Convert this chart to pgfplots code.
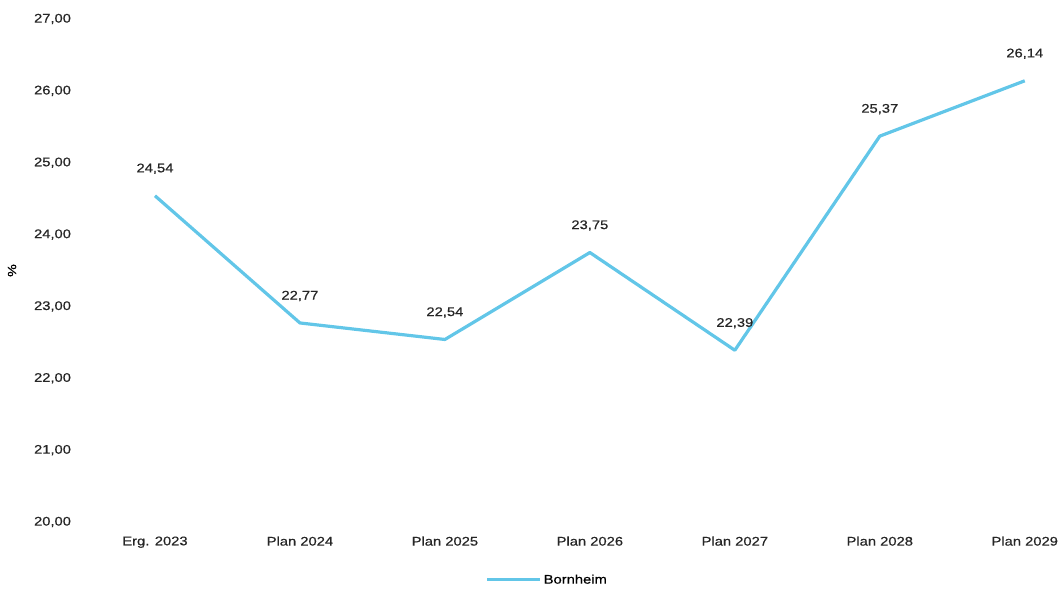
\documentclass[border=0pt]{standalone}
\usepackage{fontspec}
\setmainfont{Liberation Sans}[FakeStretch=1.18, FakeBold=0.6]
\usepackage{pgfplots}
\pgfplotsset{compat=1.18}
\usetikzlibrary{calc}
\definecolor{linecol}{RGB}{98,198,232}
\begin{document}
\begin{tikzpicture}
\begin{axis}[
  scale only axis,
  width=978.5pt, height=503pt,
  xmin=-0.5, xmax=6.25,
  ymin=20, ymax=27,
  axis line style={draw=none},
  tick style={draw=none},
  xtick={0,1,2,3,4,5,6},
  xticklabels={Erg. 2023,Plan 2024,Plan 2025,Plan 2026,Plan 2027,Plan 2028,Plan 2029},
  ytick={20,21,22,23,24,25,26,27},
  /pgf/number format/assume math mode=true,
  yticklabel={\pgfmathprintnumber[fixed,fixed zerofill,precision=2,use comma]{\tick}},
  ticklabel style={font=\fontsize{12.5}{14}\selectfont, text=black!85},
  xticklabel style={yshift=-11pt},
  yticklabel style={xshift=-8pt},
  ylabel={\%},
  ylabel style={at={(axis description cs:-0.072,0.5)}, anchor=center, font=\fontsize{12}{14}\selectfont},
  nodes near coords={\pgfmathprintnumber[fixed,fixed zerofill,precision=2,use comma,assume math mode=true]{\pgfplotspointmeta}},
  nodes near coords style={font=\fontsize{12.5}{14}\selectfont, text=black!85, anchor=center, yshift=27pt},
  legend style={at={(0.475,-0.115)}, anchor=center, draw=none, fill=none, font=\fontsize{12.5}{14}\selectfont},
  legend image code/.code={\draw[#1, line width=3pt] (0pt,0pt) -- (53pt,0pt);},
  clip=false,
]
\addplot[color=linecol, line width=3.2pt, line join=round, mark=none] coordinates {
  (0,24.54) (1,22.77) (2,22.54) (3,23.75) (4,22.39) (5,25.37) (6,26.14)
};
\addlegendentry{Bornheim}
\coordinate (bl) at (rel axis cs:0,0);
\end{axis}
\pgfresetboundingbox
\path[use as bounding box] ($(bl)+(-82.5pt,-68pt)$) rectangle ($(bl)+(978.5pt,522pt)$);
\end{tikzpicture}
\end{document}
